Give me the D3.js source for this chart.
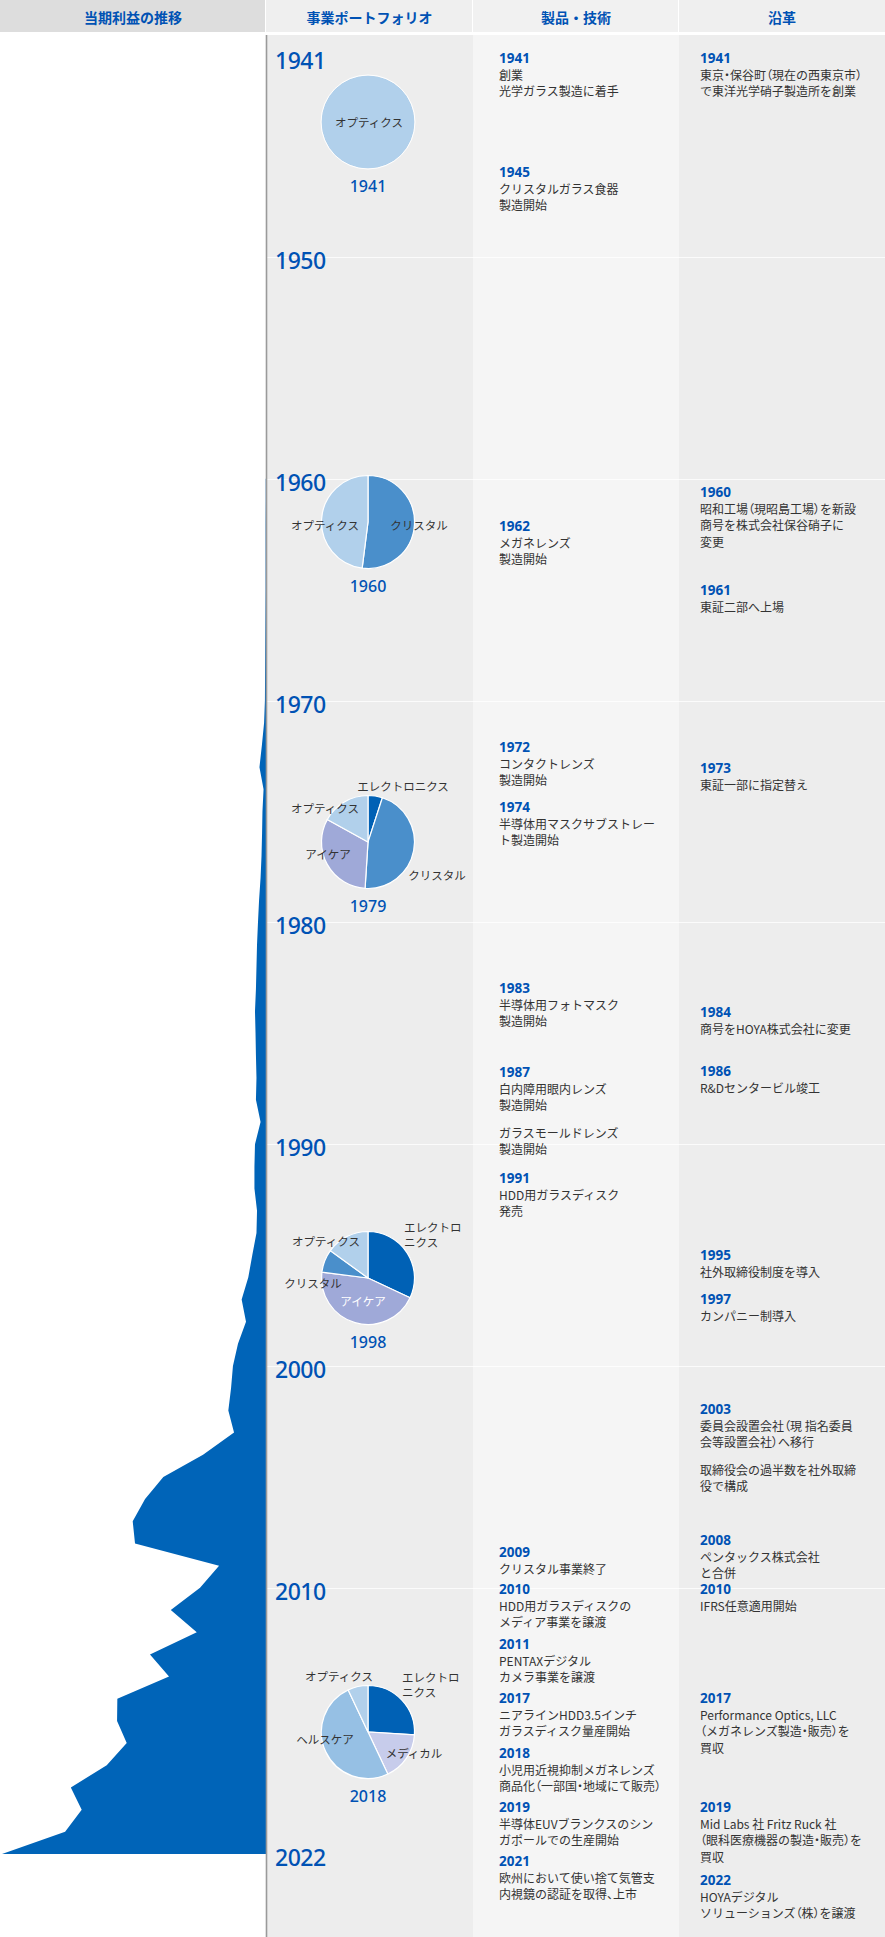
<!DOCTYPE html>
<html><head><meta charset="utf-8">
<script src="https://cdn.jsdelivr.net/npm/d3@7"></script>
<style>
html,body{margin:0;padding:0;background:#fff;}
svg{display:block;font-family:"Noto Sans CJK JP","Noto Sans",sans-serif;}
.palt{font-feature-settings:"palt";}
</style></head>
<body>
<svg id="chart" width="885" height="1937"></svg>
<script>
// ---------- DATA ----------
const headers = ["当期利益の推移", "事業ポートフォリオ", "製品・技術", "沿革"];
const tickYears = [1941, 1950, 1960, 1970, 1980, 1990, 2000, 2010, 2022];
const gridYears = [1950, 1960, 1970, 1980, 1990, 2000, 2010];

const profitYears = [1960,1961,1962,1963,1964,1965,1966,1967,1968,1969,
  1970,1971,1972,1973,1974,1975,1976,1977,1978,1979,
  1980,1981,1982,1983,1984,1985,1986,1987,1988,1989,
  1990,1991,1992,1993,1994,1995,1996,1997,1998,1999,
  2000,2001,2002,2003,2004,2005,2006,2007,2008,2009,
  2010,2011,2012,2013,2014,2015,2016,2017,2018,2019,
  2020,2021,2022];
const profitValues = [2,2,3,3,3,3,4,5,6,7,
  8,14,30,48,18,26,29,33,40,51,
  59,66,70,74,81,77,74,70,74,40,
  81,85,85,66,70,101,130,179,147,206,
  243,257,277,235,463,755,889,980,963,345,
  485,700,509,853,713,1093,1095,1024,1171,1435,
  1355,1477,1941];

const pieYears = [1941, 1960, 1979, 1998, 2018];
const pie1941 = [{name:"オプティクス", value:100}];
const pie1960 = [{name:"クリスタル", value:52}, {name:"オプティクス", value:48}];
const pie1979 = [{name:"エレクトロニクス", value:5}, {name:"クリスタル", value:46}, {name:"アイケア", value:32}, {name:"オプティクス", value:17}];
const pie1998 = [{name:"エレクトロニクス", value:32}, {name:"アイケア", value:45}, {name:"クリスタル", value:8}, {name:"オプティクス", value:15}];
const pie2018 = [{name:"エレクトロニクス", value:26}, {name:"メディカル", value:17}, {name:"ヘルスケア", value:50}, {name:"オプティクス", value:7}];
const pieSets = [pie1941, pie1960, pie1979, pie1998, pie2018];

const productYears = ["1941","1945","1962","1972","1974","1983","1987","","1991","2009","2010","2011","2017","2018","2019","2021"];
const productTexts = [
  ["創業","光学ガラス製造に着手"],
  ["クリスタルガラス食器","製造開始"],
  ["メガネレンズ","製造開始"],
  ["コンタクトレンズ","製造開始"],
  ["半導体用マスクサブストレー","ト製造開始"],
  ["半導体用フォトマスク","製造開始"],
  ["白内障用眼内レンズ","製造開始"],
  ["ガラスモールドレンズ","製造開始"],
  ["HDD用ガラスディスク","発売"],
  ["クリスタル事業終了"],
  ["HDD用ガラスディスクの","メディア事業を譲渡"],
  ["PENTAXデジタル","カメラ事業を譲渡"],
  ["ニアラインHDD3.5インチ","ガラスディスク量産開始"],
  ["小児用近視抑制メガネレンズ","商品化（一部国・地域にて販売）"],
  ["半導体EUVブランクスのシン","ガポールでの生産開始"],
  ["欧州において使い捨て気管支","内視鏡の認証を取得、上市"]
];
const historyYears = ["1941","1960","1961","1973","1984","1986","1995","1997","2003","","2008","2010","2017","2019","2022"];
const historyTexts = [
  ["東京・保谷町（現在の西東京市）","で東洋光学硝子製造所を創業"],
  ["昭和工場（現昭島工場）を新設","商号を株式会社保谷硝子に","変更"],
  ["東証二部へ上場"],
  ["東証一部に指定替え"],
  ["商号をHOYA株式会社に変更"],
  ["R&Dセンタービル竣工"],
  ["社外取締役制度を導入"],
  ["カンパニー制導入"],
  ["委員会設置会社（現 指名委員","会等設置会社）へ移行"],
  ["取締役会の過半数を社外取締","役で構成"],
  ["ペンタックス株式会社","と合併"],
  ["IFRS任意適用開始"],
  ["Performance Optics, LLC","（メガネレンズ製造・販売）を","買収"],
  ["Mid Labs 社 Fritz Ruck 社","（眼科医療機器の製造・販売）を","買収"],
  ["HOYAデジタル","ソリューションズ（株）を譲渡"]
];

// ---------- LAYOUT ----------
const W = 885, H = 1937;
const colX = [0, 266, 473, 679, 885];
const headerH = 32, contentTop = 35;
const blue = "#0052b4";
const areaColor = "#0064b8";
const segColors = {"オプティクス":"#b1d0eb","クリスタル":"#4a8fcb","エレクトロニクス":"#0061b5","アイケア":"#9fa9d8","ヘルスケア":"#96c0e4","メディカル":"#c7cceb"};
const pieCenterY = [122, 522, 842, 1278, 1732];
const pieCX = 368, pieR = 46.5;
const pieLabelLayout = [
  {"オプティクス":{dx:1,dy:0,a:"middle"}},
  {"オプティクス":{dx:-43,dy:3,a:"middle"},"クリスタル":{dx:51,dy:3,a:"middle"}},
  {"エレクトロニクス":{dx:35,dy:-56,a:"middle"},"オプティクス":{dx:-43,dy:-34,a:"middle"},"アイケア":{dx:-40,dy:12,a:"middle"},"クリスタル":{dx:69,dy:33,a:"middle"}},
  {"エレクトロニクス":{dx:36,dy:-51,a:"start",split:true},"オプティクス":{dx:-42,dy:-37,a:"middle"},"クリスタル":{dx:-55,dy:5,a:"middle"},"アイケア":{dx:-5,dy:23,a:"middle",fill:"#fff"}},
  {"エレクトロニクス":{dx:34,dy:-55,a:"start",split:true},"オプティクス":{dx:-29,dy:-56,a:"middle"},"ヘルスケア":{dx:-43,dy:7,a:"middle"},"メディカル":{dx:46,dy:21,a:"middle"}}
];
const productY = [58,172,526,747,807,988,1072,1132,1178,1552,1589,1644,1698,1753,1807,1861];
const historyY = [58,492,590,768,1012,1071,1255,1299,1409,1469,1540,1589,1698,1807,1880];
const lineH = 16.2;

const svg = d3.select("#chart");

// backgrounds
svg.append("rect").attr("x",0).attr("y",0).attr("width",W).attr("height",H).attr("fill","#fff");
const headFills = ["#dddddd","#efefef","#f1f1f1","#efefef"];
const bodyFills = ["#ffffff","#ededed","#f5f5f5","#ededed"];
for (let i=0;i<4;i++){
  svg.append("rect").attr("x",colX[i]).attr("y",0).attr("width",colX[i+1]-colX[i]-(i<3?1:0)).attr("height",headerH).attr("fill",headFills[i]);
  svg.append("rect").attr("x",colX[i]).attr("y",contentTop).attr("width",colX[i+1]-colX[i]).attr("height",H-contentTop).attr("fill",bodyFills[i]);
  svg.append("text").attr("x",(colX[i]+colX[i+1])/2).attr("y",headerH/2+1)
    .attr("text-anchor","middle").attr("dominant-baseline","central")
    .attr("font-size",14).attr("font-weight","bold").attr("fill",blue).text(headers[i]);
}

// scales
const y = d3.scaleLinear().domain([1950, 2022]).range([257, 1854]);
const x = d3.scaleLinear().domain([0, d3.max(profitValues)]).range([266, 2]);

// grid lines
svg.append("g").selectAll("line").data(gridYears).join("line")
  .attr("x1",266).attr("x2",W).attr("y1",d=>Math.round(y(d))+0.5).attr("y2",d=>Math.round(y(d))+0.5)
  .attr("stroke","#ffffff").attr("stroke-opacity",0.75).attr("stroke-width",1);

// profit area
const profit = profitYears.map((yr,i)=>({yr, v: profitValues[i]}));
const area = d3.area().y(d=>y(d.yr)).x0(x(0)).x1(d=>x(d.v)).curve(d3.curveLinear);
svg.append("path").datum(profit).attr("d",area).attr("fill",areaColor);

// axis line
svg.append("line").attr("x1",266.5).attr("x2",266.5).attr("y1",contentTop).attr("y2",H)
  .attr("stroke","#9a9a9a").attr("stroke-width",1.6);

// year tick labels
svg.append("g").selectAll("text").data(tickYears).join("text")
  .attr("x",275).attr("y",d=>y(d)+3).attr("dominant-baseline","central")
  .attr("font-size",23).attr("font-weight","500").attr("fill",blue).attr("font-family","'Noto Sans','Noto Sans CJK JP',sans-serif")
  .attr("letter-spacing","-0.5").text(d=>d);

// pies
const pieGen = d3.pie().value(d=>d.value).sort(null);
const arcGen = d3.arc().innerRadius(0).outerRadius(pieR);
pieSets.forEach((set,i)=>{
  const g = svg.append("g").attr("transform",`translate(${pieCX},${pieCenterY[i]})`);
  g.selectAll("path").data(pieGen(set)).join("path")
    .attr("d",arcGen).attr("fill",d=>segColors[d.data.name])
    .attr("stroke","#fff").attr("stroke-width",set.length>1?1.2:0);
  if (set.length===1) g.append("circle").attr("r",pieR+0.5).attr("fill","none").attr("stroke","#fff").attr("stroke-width",1);
  set.forEach(s=>{
    const L = pieLabelLayout[i][s.name];
    const lines = L.split ? [s.name.slice(0,5), s.name.slice(5)] : [s.name];
    const t = g.append("text").attr("text-anchor",L.a).attr("font-size",11.5)
      .attr("fill",L.fill||"#333");
    lines.forEach((ln,k)=>{
      t.append("tspan").attr("x",L.dx).attr("y",L.dy+k*14.5).attr("dominant-baseline","central").text(ln);
    });
  });
  g.append("text").attr("x",0).attr("y",64).attr("text-anchor","middle").attr("dominant-baseline","central")
    .attr("font-size",16).attr("font-weight","500").attr("fill",blue)
    .attr("font-family","'Noto Sans','Noto Sans CJK JP',sans-serif").text(pieYears[i]);
});

// text with proportional punctuation
function addLine(g, xPos, yy, ln){
  const t = g.append("text").attr("x",xPos).attr("y",yy).attr("dominant-baseline","central")
    .attr("font-size",12).attr("fill","#333");
  ln.split(/([（）・、])/).filter(s=>s.length).forEach(part=>{
    const sp = t.append("tspan").text(part);
    if (/^[（）・、]$/.test(part)) sp.attr("class","palt");
  });
}
function drawEvents(xPos, years, texts, ys){
  years.forEach((yr,i)=>{
    let yy = ys[i];
    const g = svg.append("g");
    if (yr){
      g.append("text").attr("x",xPos).attr("y",yy).attr("dominant-baseline","central")
        .attr("font-size",13.5).attr("font-weight","bold").attr("fill",blue)
        .attr("font-family","'Noto Sans','Noto Sans CJK JP',sans-serif").text(yr);
      yy += lineH;
    }
    texts[i].forEach((ln,k)=> addLine(g, xPos, yy+k*lineH, ln));
  });
}
drawEvents(499, productYears, productTexts, productY);
drawEvents(700, historyYears, historyTexts, historyY);
</script>
</body></html>
